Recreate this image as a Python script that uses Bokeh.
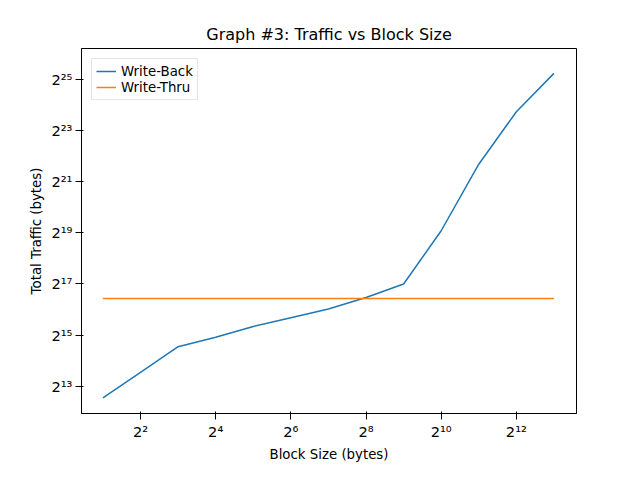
from bokeh.plotting import figure
from bokeh.models import FixedTicker, CustomJSTickFormatter, Range1d
from bokeh.embed import file_html
from bokeh.resources import INLINE

block_sizes = [2, 4, 8, 16, 32, 64, 128, 256, 512, 1024, 2048, 4096, 8192]
write_back = [5997, 11990, 23980, 31000, 41500, 52500, 66500, 90700, 131072,
              554000, 3360000, 13900000, 39300000]
write_thru = [88300] * 13

x_ticks = [4, 16, 64, 256, 1024, 4096]
y_ticks = [2 ** 13, 2 ** 15, 2 ** 17, 2 ** 19, 2 ** 21, 2 ** 23, 2 ** 25]

sup = CustomJSTickFormatter(code="""
const s = {'0':'⁰','1':'¹','2':'²','3':'³','4':'⁴','5':'⁵','6':'⁶','7':'⁷','8':'⁸','9':'⁹'};
const e = Math.round(Math.log2(tick)).toString();
return '2' + e.split('').map(c => s[c]).join('');
""")

p = figure(width=624, height=464, x_axis_type="log", y_axis_type="log",
           title="Graph #3: Traffic vs Block Size",
           x_range=Range1d(2 ** 0.43, 2 ** 13.6), y_range=Range1d(2 ** 11.94, 2 ** 26.2),
           output_backend="svg", toolbar_location=None,
           min_border_left=81, min_border_right=48, min_border_top=48, min_border_bottom=30)

p.line(block_sizes, write_back, line_color="#1f77b4", line_width=1.5, legend_label="Write-Back")
p.line(block_sizes, write_thru, line_color="#ff7f0e", line_width=1.5, legend_label="Write-Thru")

p.title.align = "center"
p.title.text_font = "DejaVu Sans"
p.title.text_font_size = "12pt"
p.title.text_font_style = "normal"
p.title.text_color = "black"
p.xgrid.visible = False
p.ygrid.visible = False
p.xaxis.ticker = FixedTicker(ticks=x_ticks)
p.yaxis.ticker = FixedTicker(ticks=y_ticks)
p.xaxis.formatter = sup
p.yaxis.formatter = sup
p.xaxis.minor_tick_line_color = None
p.yaxis.minor_tick_line_color = None
p.xaxis.axis_label = "Block Size (bytes)"
p.yaxis.axis_label = "Total Traffic (bytes)"
for ax in (p.xaxis, p.yaxis):
    ax.axis_label_text_font = "DejaVu Sans"
    ax.axis_label_text_font_style = "normal"
    ax.axis_label_text_font_size = "10pt"
    ax.axis_label_text_color = "black"
    ax.axis_label_standoff = 4
    ax.major_label_text_font = "DejaVu Sans"
    ax.major_label_text_font_size = "11pt"
    ax.major_label_text_color = "black"
    ax.major_label_standoff = 3
p.outline_line_color = "black"
p.legend.location = "top_left"
p.legend.label_text_font = "DejaVu Sans"
p.legend.label_text_font_size = "10pt"
p.legend.label_text_color = "black"
p.legend.border_line_color = "#cccccc"
p.legend.spacing = 0
p.legend.padding = 4
p.legend.glyph_height = 16

open("out.html", "w").write(file_html(p, INLINE))
